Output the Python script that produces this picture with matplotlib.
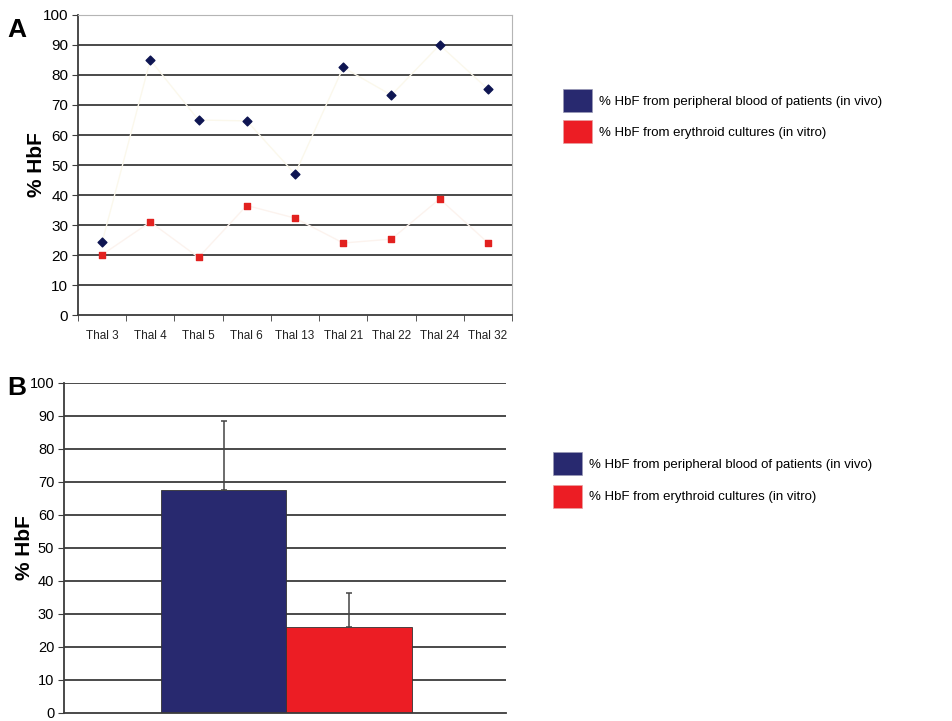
import matplotlib.pyplot as plt
from matplotlib.patches import Patch
import numpy as np

plt.rcParams['font.family'] = ['Liberation Sans', 'DejaVu Sans']

# panel A: individual patients
patients = ['Thal 3', 'Thal 4', 'Thal 5', 'Thal 6', 'Thal 13',
            'Thal 21', 'Thal 22', 'Thal 24', 'Thal 32']
hbf_vivo = [24.2, 85.0, 65.0, 64.7, 47.0, 82.5, 73.3, 90.0, 75.3]
hbf_vitro = [20.1, 31.0, 19.2, 36.5, 32.3, 24.0, 25.3, 38.7, 24.1]

# panel B: means with SD
mean_labels = ['% HbF from peripheral blood of patients (in vivo)',
               '% HbF from erythroid cultures (in vitro)']
mean_vals = [67.5, 26.0]
mean_err = [21.0, 10.3]

navy = '#0e1552'
red = '#e2211f'
bar_blue = '#28296f'
bar_red = '#ec1d24'
grid_col = '#3c3c3c'

fig = plt.figure(figsize=(9.52, 7.21), dpi=100)

# ---- A ----
axA = fig.add_axes([0.0819, 0.5631, 0.4559, 0.4161])
x = np.arange(len(patients))
axA.plot(x, hbf_vivo, color='#fbf8ec', lw=1, zorder=1)
axA.plot(x, hbf_vitro, color='#fcf3ee', lw=1, zorder=1)
axA.scatter(x, hbf_vivo, marker='D', s=20, color=navy, zorder=3)
axA.scatter(x, hbf_vitro, marker='s', s=22, color=red, zorder=3)
axA.set_xlim(-0.5, len(patients) - 0.5)
axA.set_ylim(0, 100)
axA.set_yticks(np.arange(0, 101, 10))
for v in range(10, 100, 10):
    axA.axhline(v, color=grid_col, lw=1.3, zorder=0)
axA.set_xticks(x)
axA.set_xticklabels(patients, fontsize=8.5, color='#222222')
axA.set_xticks(np.arange(-0.5, len(patients), 1), minor=True)
axA.tick_params(axis='x', which='major', length=0, pad=11)
axA.tick_params(axis='x', which='minor', length=4, color=grid_col)
axA.tick_params(axis='y', length=4, labelsize=11, color=grid_col, pad=3)
axA.spines['left'].set_color(grid_col)
axA.spines['bottom'].set_color(grid_col)
axA.spines['left'].set_linewidth(1.3)
axA.spines['bottom'].set_linewidth(1.3)
axA.spines['top'].set_color('#b5b5b5')
axA.spines['right'].set_color('#b5b5b5')
axA.set_ylabel('% HbF', fontsize=15, fontweight='bold', labelpad=-2)

handles = [Patch(facecolor=bar_blue, edgecolor='#9a9ab5', lw=0.5),
           Patch(facecolor=bar_red, edgecolor='#e8a0a0', lw=0.5)]
leg_kw = dict(loc='upper left', frameon=False, fontsize=9.5,
              handlelength=2.2, handleheight=2.3, handletextpad=0.55,
              labelspacing=0.6, borderpad=0, borderaxespad=0)
fig.legend(handles, mean_labels, bbox_to_anchor=(0.591, 0.876), **leg_kw)

fig.text(0.008, 0.975, 'A', fontsize=19, fontweight='bold', va='top')

# ---- B ----
axB = fig.add_axes([0.0672, 0.0111, 0.4643, 0.4577])
axB.bar([0, 1], mean_vals, width=1.0, color=[bar_blue, bar_red],
        edgecolor='#333333', lw=0.6, zorder=2)
axB.errorbar([0, 1], mean_vals, yerr=[[0, 0], mean_err], fmt='none',
             ecolor='#444444', elinewidth=1.1, capsize=2.5, capthick=1.1,
             zorder=3)
axB.set_xlim(-1.274, 2.25)
axB.set_ylim(0, 100)
axB.set_yticks(np.arange(0, 101, 10))
for v in range(10, 101, 10):
    axB.axhline(v, color=grid_col, lw=1.3, zorder=1)
axB.set_xticks([])
axB.tick_params(axis='y', length=4, labelsize=10.5, color=grid_col, pad=3)
for s in ['top', 'right']:
    axB.spines[s].set_visible(False)
axB.spines['left'].set_color(grid_col)
axB.spines['bottom'].set_color(grid_col)
axB.spines['left'].set_linewidth(1.3)
axB.spines['bottom'].set_linewidth(1.3)
axB.set_ylabel('% HbF', fontsize=15, fontweight='bold', labelpad=-3)

fig.legend(handles, mean_labels, bbox_to_anchor=(0.581, 0.373),
           **dict(leg_kw, labelspacing=0.75))

fig.text(0.008, 0.478, 'B', fontsize=19, fontweight='bold', va='top')

fig.savefig('out.png', dpi=100)
